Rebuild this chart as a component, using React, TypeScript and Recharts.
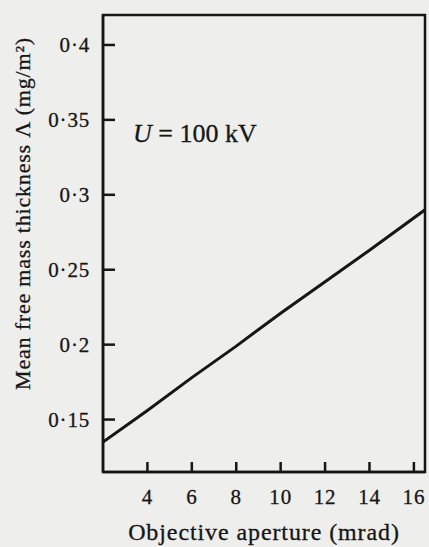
import React from 'react';
import { LineChart, Line, XAxis, YAxis, ReferenceArea, ReferenceDot, Label } from 'recharts';

// Objective aperture (mrad) vs. mean free mass thickness (mg/m^2)
const aperture = [2, 4, 6, 8, 10, 12, 14, 16.5];
const thickness = [0.135, 0.156, 0.178, 0.199, 0.221, 0.242, 0.263, 0.29];

const xTicks = [4, 6, 8, 10, 12, 14, 16];
const yTicks = [0.15, 0.2, 0.25, 0.3, 0.35, 0.4];

const xDomain = [2, 16.5];
const yDomain = [0.115, 0.42];

const ink = '#161616';
const serif = '"Liberation Serif", "Times New Roman", serif';

const data = aperture.map((a, i) => ({ aperture: a, thickness: thickness[i] }));

const fmt = (v: number) => String(v).replace('.', '·');

// eslint-disable-next-line @typescript-eslint/no-explicit-any
const YTitle = (props: any) => {
    const { viewBox } = props;
    const cx = viewBox.x + 22;
    const cy = viewBox.y + viewBox.height / 2 - 30;
    return (
        <text x={cx} y={cy} transform={`rotate(-90, ${cx}, ${cy})`} textAnchor="middle" dominantBaseline="central"
            fill={ink} stroke={ink} strokeWidth={0.3} fontFamily={serif} fontSize={22} letterSpacing={0.8}>
            Mean free mass thickness Λ (mg/m²)
        </text>
    );
};

// eslint-disable-next-line @typescript-eslint/no-explicit-any
const VoltageNote = (props: any) => (
    <text x={props.cx} y={props.cy} fill={ink} stroke={ink} strokeWidth={0.3} fontFamily={serif} fontSize={26}>
        <tspan fontStyle="italic">U</tspan> = 100 kV
    </text>
);

const tickStyle = { fill: ink, stroke: ink, strokeWidth: 0.3, fontFamily: serif, fontSize: 21, letterSpacing: 0.8 };

export default function App() {
    return (
        <div style={{ position: 'absolute', left: 0, top: 0, width: 429, height: 547, background: '#eeeeec' }}>
            <LineChart width={429} height={547} data={data} margin={{ top: 15, right: 4, left: 0, bottom: 0 }}>
                <XAxis
                    dataKey="aperture"
                    type="number"
                    domain={xDomain}
                    ticks={xTicks}
                    allowDataOverflow
                    height={75}
                    stroke={ink}
                    strokeWidth={2.5}
                    tickSize={-10}
                    tickMargin={27}
                    tick={tickStyle}
                >
                    <Label value="Objective aperture (mrad)" position="insideBottom" offset={7}
                        fill={ink} stroke={ink} strokeWidth={0.3} fontFamily={serif} fontSize={24} letterSpacing={0.9} />
                </XAxis>
                <YAxis
                    type="number"
                    domain={yDomain}
                    ticks={yTicks}
                    allowDataOverflow
                    width={103}
                    stroke={ink}
                    strokeWidth={2.5}
                    tickSize={-12}
                    tickMargin={25}
                    tickFormatter={fmt}
                    tick={tickStyle}
                >
                    <Label content={<YTitle />} />
                </YAxis>
                <ReferenceArea x1={xDomain[0]} x2={xDomain[1]} y1={yDomain[0]} y2={yDomain[1]}
                    fill="none" stroke={ink} strokeWidth={2.5} ifOverflow="visible" />
                <ReferenceDot x={3.35} y={0.335} r={0} shape={<VoltageNote />} ifOverflow="visible" />
                <Line
                    dataKey="thickness"
                    type="linear"
                    stroke={ink}
                    strokeWidth={3}
                    dot={false}
                    isAnimationActive={false}
                />
            </LineChart>
        </div>
    );
}
